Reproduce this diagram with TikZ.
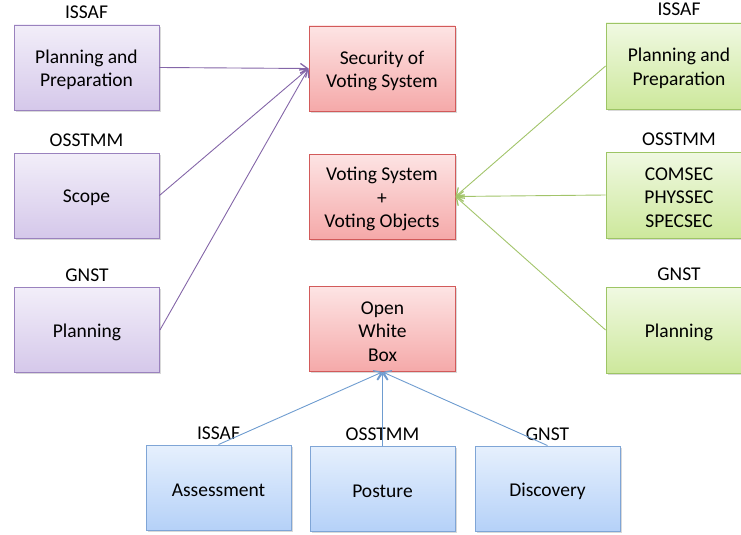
\documentclass[tikz,border=0pt]{standalone}
\usepackage{fontspec}
\setmainfont{Carlito}
\usetikzlibrary{arrows.meta,shadows}
\definecolor{pbord}{HTML}{9A82BE}
\definecolor{ptop}{HTML}{F2EEF9}
\definecolor{pbot}{HTML}{D5C8EA}
\definecolor{rbord}{HTML}{D25A5A}
\definecolor{rtop}{HTML}{FDE4E4}
\definecolor{rbot}{HTML}{F5A9A9}
\definecolor{gbord}{HTML}{9DC565}
\definecolor{gtop}{HTML}{F0F9E2}
\definecolor{gbot}{HTML}{CDE89C}
\definecolor{bbord}{HTML}{7FA5D6}
\definecolor{btop}{HTML}{E6F0FD}
\definecolor{bbot}{HTML}{B5D1F8}
\definecolor{parrow}{HTML}{8466A8}
\definecolor{garrow}{HTML}{A2C46A}
\definecolor{barrow}{HTML}{6E9CD0}
\tikzset{
  boxbase/.style={rectangle, minimum width=145pt, minimum height=85pt, inner sep=0pt,
    line width=0.9pt,
    drop shadow={shadow xshift=1.5pt, shadow yshift=-1.8pt, opacity=0.3}},
  pbox/.style={boxbase, draw=pbord, top color=ptop, bottom color=pbot},
  rbox/.style={boxbase, draw=rbord, top color=rtop, bottom color=rbot},
  gbox/.style={boxbase, draw=gbord, top color=gtop, bottom color=gbot},
  bbox/.style={boxbase, draw=bbord, top color=btop, bottom color=bbot},
  txt/.style={align=center, inner sep=0pt, font=\fontsize{19.5}{23.5}\selectfont},
  lbl/.style={font=\fontsize{19.5}{23.5}\selectfont, inner sep=0pt, anchor=base},
  conn/.style={line width=0.9pt, -{Straight Barb[length=7pt,width=10pt,line width=1.3pt]}},
}
\begin{document}
\begin{tikzpicture}[x=1pt,y=-1pt]
\useasboundingbox (0,0) rectangle (741,535);
\clip (0,0) rectangle (741,535);
% purple
\node[pbox] (p1) at (86.5,67.5) {};
\node[pbox] (p2) at (86.5,195.5) {};
\node[pbox] (p3) at (87,330) {};
% red
\node[rbox, minimum width=146pt] (r1) at (382,68.5) {};
\node[rbox, minimum width=146pt] (r2) at (382,196.5) {};
\node[rbox, minimum width=146pt] (r3) at (382.5,329) {};
% green
\node[gbox, minimum width=146pt, minimum height=86pt] (g1) at (679,66) {};
\node[gbox, minimum width=146pt, minimum height=86pt] (g2) at (679,195) {};
\node[gbox, minimum width=146pt, minimum height=86pt] (g3) at (679,330) {};
% blue
\node[bbox] (b1) at (218.5,487.5) {};
\node[bbox] (b2) at (382.5,488.5) {};
\node[bbox] (b3) at (547.5,488.5) {};
% box texts
\node[txt] (tp1) at ([yshift=-2.5pt]p1.center) {Planning and\\Preparation};
\node[txt] (tp2) at ([yshift=-2.5pt]p2.center) {Scope};
\node[txt] (tp3) at ([yshift=-2.5pt]p3.center) {Planning};
\node[txt] (tr1) at ([yshift=-2.5pt]r1.center) {Security of\\Voting System};
\node[txt] (tr2) at ([yshift=-2.5pt]r2.center) {Voting System\\+\\Voting Objects};
\node[txt] (tr3) at ([yshift=-2.5pt]r3.center) {Open\\White\\Box};
\node[txt] (tg1) at ([yshift=-2.5pt]g1.center) {Planning and\\Preparation};
\node[txt] (tg2) at ([yshift=-2.5pt]g2.center) {COMSEC\\PHYSSEC\\SPECSEC};
\node[txt] (tg3) at ([yshift=-2.5pt]g3.center) {Planning};
\node[txt] (tb1) at ([yshift=-2.5pt]b1.center) {Assessment};
\node[txt] (tb2) at ([yshift=-2.5pt]b2.center) {Posture};
\node[txt] (tb3) at ([yshift=-2.5pt]b3.center) {Discovery};
% labels
\node[lbl] (lp1) at ([yshift=6pt]p1.north) {ISSAF};
\node[lbl] (lp2) at ([yshift=6pt]p2.north) {OSSTMM};
\node[lbl] (lp3) at ([yshift=6pt]p3.north) {GNST};
\node[lbl] (lg1) at ([yshift=7pt]g1.north) {ISSAF};
\node[lbl] (lg2) at ([yshift=6pt]g2.north) {OSSTMM};
\node[lbl] (lg3) at ([yshift=6pt]g3.north) {GNST};
\node[lbl] (lb1) at ([yshift=5pt]b1.north) {ISSAF};
\node[lbl] (lb2) at ([yshift=5pt]b2.north) {OSSTMM};
\node[lbl] (lb3) at ([yshift=5pt]b3.north) {GNST};
% connectors
\draw[conn, draw=parrow] (p1.east) -- (r1.west);
\draw[conn, draw=parrow] (p2.east) -- (r1.west);
\draw[conn, draw=parrow] (p3.east) -- (r1.west);
\draw[conn, draw=garrow] (g1.west) -- (r2.east);
\draw[conn, draw=garrow] (g2.west) -- (r2.east);
\draw[conn, draw=garrow] (g3.west) -- (r2.east);
\draw[conn, draw=barrow] (b1.north) -- (r3.south);
\draw[conn, draw=barrow] (b2.north) -- (r3.south);
\draw[conn, draw=barrow] (b3.north) -- (r3.south);
\end{tikzpicture}
\end{document}
